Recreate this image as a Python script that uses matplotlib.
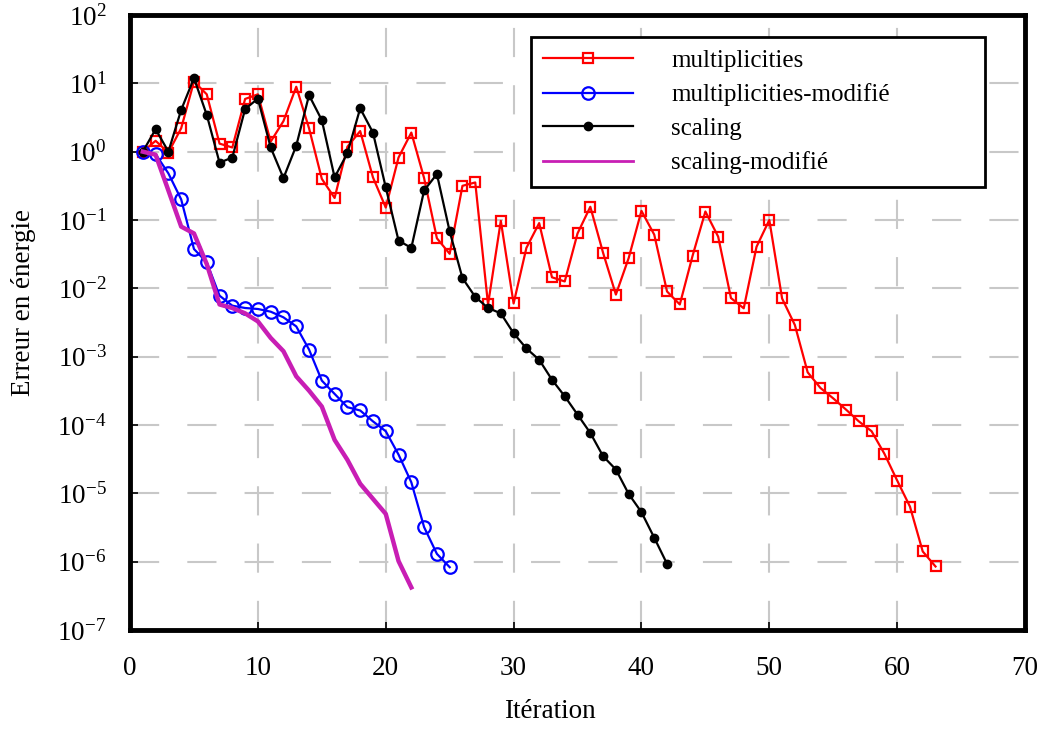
import matplotlib
matplotlib.use('Agg')
import matplotlib.pyplot as plt
import numpy as np

plt.rcParams['font.family'] = ['Liberation Serif', 'DejaVu Serif']
plt.rcParams['mathtext.fontset'] = 'custom'
plt.rcParams['mathtext.rm'] = 'Liberation Serif'
plt.rcParams['mathtext.it'] = 'Liberation Serif:italic'

# multiplicities
mult = [1.0, 1.44, 0.97, 2.2, 10.6, 6.9, 1.31, 1.15, 5.9, 6.9,
        1.4, 2.8, 8.9, 2.2, 0.40, 0.21, 1.18, 2.0, 0.42, 0.152,
        0.82, 1.9, 0.41, 0.054, 0.032, 0.316, 0.354, 0.0058, 0.097, 0.006,
        0.039, 0.090, 0.0145, 0.0126, 0.0635, 0.156, 0.033, 0.0081, 0.0277, 0.136,
        0.061, 0.009, 0.0058, 0.030, 0.133, 0.057, 0.0072, 0.0051, 0.0405, 0.10,
        0.0071, 0.0029, 5.9e-4, 3.48e-4, 2.45e-4, 1.68e-4, 1.13e-4, 8.1e-5, 3.8e-5, 1.54e-5,
        6.4e-6, 1.41e-6, 8.5e-7]

# multiplicities-modifié
mult_mod = [1.0, 0.92, 0.48, 0.20, 0.0376, 0.024, 0.0078, 0.00557, 0.00515, 0.00498,
            0.00455, 0.00376, 0.00277, 0.00127, 4.46e-4, 2.85e-4, 1.82e-4, 1.63e-4, 1.13e-4, 8.1e-5,
            3.69e-5, 1.45e-5, 3.2e-6, 1.3e-6, 8.3e-7]

# scaling
scal = [1.0, 2.13, 1.0, 4.08, 11.9, 3.45, 0.69, 0.82, 4.2, 5.97,
        1.15, 0.41, 1.22, 6.7, 2.89, 0.42, 0.95, 4.3, 1.9, 0.30,
        0.050, 0.039, 0.27, 0.47, 0.068, 0.0141, 0.0075, 0.00515, 0.0043, 0.0022,
        0.00132, 9.0e-4, 4.6e-4, 2.63e-4, 1.42e-4, 7.65e-5, 3.49e-5, 2.23e-5, 9.8e-6, 5.3e-6,
        2.24e-6, 9.3e-7]

# scaling-modifié
scal_mod = [1.0, 0.90, 0.27, 0.080, 0.0635, 0.0226, 0.0058, 0.00515, 0.0043, 0.00328,
            0.00188, 0.0012, 5.15e-4, 3.18e-4, 1.86e-4, 6.05e-5, 3.09e-5, 1.38e-5, 8.3e-6, 5.0e-6,
            1.02e-6, 4.2e-7]

fig = plt.figure(figsize=(10.42, 7.30), dpi=100)
ax = fig.add_axes([0.1248, 0.137, 0.8589, 0.8425])

ax.plot(np.arange(1, len(mult) + 1), mult, '-s', color='red', lw=1.6,
        ms=7.5, mfc='none', mew=1.6, label='multiplicities')
ax.plot(np.arange(1, len(mult_mod) + 1), mult_mod, '-o', color='blue', lw=1.6,
        ms=9, mfc='none', mew=1.6, label='multiplicities-modifié')
ax.plot(np.arange(1, len(scal) + 1), scal, '-o', color='black', lw=1.6,
        ms=6, label='scaling')
ax.plot(np.arange(1, len(scal_mod) + 1), scal_mod, '-', color='#c81eb4', lw=3.2,
        label='scaling-modifié')

ax.set_yscale('log')
ax.set_xlim(0, 70)
ax.set_ylim(1e-7, 1e2)
ax.set_xticks(range(0, 71, 10))
ax.set_yticks([10.0 ** k for k in range(-7, 3)])
ax.minorticks_off()
ax.grid(True, color='#c8c8c8', lw=1.5, ls=(0, (14, 13.5)))
ax.tick_params(direction='in', length=6, width=1.2, labelsize=19.5)
ax.tick_params(axis='x', pad=19)
ax.tick_params(axis='y', pad=17)
for s in ax.spines.values():
    s.set_linewidth(3.5)

ax.set_xlabel('Itération', fontsize=19.5)
ax.set_ylabel('Erreur en énergie', fontsize=19.5)
ax.xaxis.set_label_coords(0.469, -0.113)
ax.yaxis.set_label_coords(-0.105, 0.533)

leg = ax.legend(loc='upper left', bbox_to_anchor=(0.448, 0.732, 0.507, 0.232),
                mode='expand', fontsize=18, handlelength=3.6, handletextpad=1.5,
                labelspacing=0.45, fancybox=False, framealpha=1,
                edgecolor='black', borderpad=0.5, borderaxespad=0)
leg.get_frame().set_linewidth(2)
leg.get_lines()[3].set_linewidth(2)

fig.savefig('out.png', dpi=100)
